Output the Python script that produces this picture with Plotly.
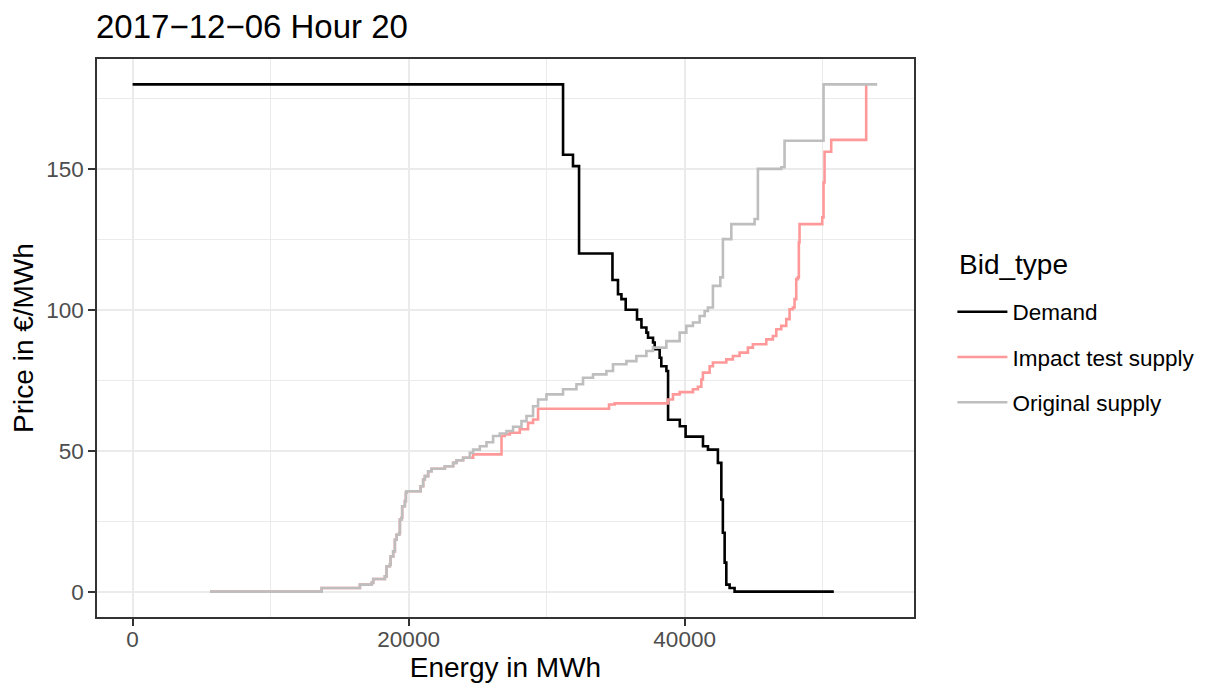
import plotly.graph_objects as go

# ---------------- data ----------------
demand_q = [0, 31190, 31910, 32350, 34770, 35170, 35420, 35730, 36550, 36870,
            37230, 37350, 37710, 37830, 38190, 38310, 38680, 38800, 39650, 40070,
            41330, 41690, 42410, 42660, 42770, 42900, 43020, 43260, 43620, 50810]
demand_p = [180, 155, 151, 120, 110.6, 105.5, 103.8, 100, 96.6, 93.7,
            91.9, 90.1, 88.4, 86, 83, 80, 78.3, 61, 58.7, 55,
            51.6, 50.4, 45.7, 32.7, 20.9, 10.3, 2.5, 1.3, 0, 0]

original_q = [5611, 13698, 16471, 17318, 17434, 18281, 18404, 18643, 18694, 18882,
              19005, 19128, 19316, 19367, 19490, 19534, 19729, 19801, 19852, 20866,
              21054, 21177, 21416, 21662, 22625, 23226, 23472, 23950, 24435, 24674,
              25159, 25644, 26122, 26607, 27092, 27570, 28178, 28540, 29018, 29380,
              29988, 31190, 32160, 32638, 33362, 34332, 34810, 35780, 36504, 37228,
              37706, 38676, 39639, 40124, 40602, 41087, 41449, 41688, 42050, 42586,
              42774, 43382, 45069, 45308, 47002, 47241, 50065, 53952]
original_p = [0, 1.3, 2.5, 3.1, 4.5, 5.4, 9, 9.6, 12.5, 14.3,
              18.4, 20.2, 20.8, 25.6, 26.2, 30.3, 32.1, 35.1, 35.6, 37.4,
              39.8, 41, 42.7, 43.6, 44.5, 45.7, 46.6, 47.5, 49.3, 50.4,
              51.6, 53, 55.2, 56.1, 57, 58.5, 60.5, 62.3, 65.8, 68.2,
              70, 71.8, 73.6, 75.9, 77.1, 78.3, 80.7, 81.8, 83.6, 85.4,
              86.6, 88.9, 91.9, 94.3, 95.5, 97.8, 99.6, 100.8, 108.5, 111.5,
              125.1, 130.4, 132.2, 150, 150.6, 160, 180, 180]

impact_q = [5611, 13698, 16471, 17318, 17434, 18281, 18404, 18643, 18694, 18882,
            19005, 19128, 19316, 19367, 19490, 19534, 19729, 19801, 19852, 20866,
            21054, 21177, 21416, 21662, 22625, 23226, 23472, 23950, 24674, 26730,
            26969, 27331, 28055, 28656, 29018, 29380, 34520, 34933, 38792, 39154,
            39639, 40602, 40964, 41210, 41326, 41811, 42050, 43020, 43498, 43983,
            44584, 44946, 45916, 46394, 46640, 47002, 47364, 47603, 47842, 47965,
            48088, 48204, 48276, 48327, 49970, 50065, 50137, 50622, 53156]
impact_p = [0, 1.3, 2.5, 3.1, 4.5, 5.4, 9, 9.6, 12.5, 14.3,
            18.4, 20.2, 20.8, 25.6, 26.2, 30.3, 32.1, 35.1, 35.6, 37.4,
            39.8, 41, 42.7, 43.6, 44.5, 45.7, 46.6, 47.5, 48.7, 55.2,
            55.8, 56.4, 57.6, 59.9, 61.1, 64.9, 66.4, 66.8, 68.2, 70,
            70.8, 71.8, 72.7, 75.3, 77.7, 80, 81.3, 82.4, 83.6, 84.8,
            86.6, 87.8, 89.5, 90.7, 93.1, 94.3, 96.7, 100.2, 100.8, 103.8,
            110.9, 111.5, 123.9, 130.4, 132.8, 145.2, 156.1, 160.3, 180]

x_ticks = [0, 20000, 40000]
x_minor = [10000, 30000, 50000]
y_ticks = [0, 50, 100, 150]
y_minor = [25, 75, 125, 175]

FONT = "Liberation Sans, Arial, sans-serif"

fig = go.Figure()
fig.add_trace(go.Scatter(x=demand_q, y=demand_p, mode="lines", name="Demand", legendgroup="d",
                         line=dict(color="#000000", width=2.6, shape="hv")))
fig.add_trace(go.Scatter(x=impact_q, y=impact_p, mode="lines", name="Impact test supply", legendgroup="i",
                         line=dict(color="#FF9999", width=2.6, shape="hv")))
fig.add_trace(go.Scatter(x=original_q, y=original_p, mode="lines", name="Original supply", legendgroup="o",
                         line=dict(color="#BEBEBE", width=2.6, shape="hv")))

axis_common = dict(
    showgrid=True, gridcolor="#EBEBEB", gridwidth=2, zeroline=False,
    showline=True, mirror=True, linecolor="#333333", linewidth=1.5,
    ticks="outside", ticklen=7, tickwidth=1.5, tickcolor="#333333",
    tickfont=dict(family=FONT, size=22.5, color="#4D4D4D"),
    automargin=False,
)

fig.update_layout(
    width=1213, height=683,
    margin=dict(l=97, r=299, t=59, b=66),
    paper_bgcolor="white", plot_bgcolor="white",
    font=dict(family=FONT, color="#000000"),
    title=dict(text="2017\u221212\u221206 Hour 20", x=96/1213, xanchor="left",
               y=1 - 26/683, yanchor="middle", xref="container", yref="container",
               font=dict(family=FONT, size=33, color="#000000")),
    xaxis=dict(range=[-2580, 56620], tickvals=x_ticks, ticktext=[str(v) for v in x_ticks],
               minor=dict(tickvals=x_minor, showgrid=True, gridcolor="#EBEBEB", gridwidth=1.2, ticks=""),
               ticklabelstandoff=-6,
               title=dict(text="Energy in MWh", font=dict(family=FONT, size=28, color="#000000"), standoff=4),
               **axis_common),
    yaxis=dict(range=[-9, 189], tickvals=y_ticks, ticktext=[str(v) for v in y_ticks],
               minor=dict(tickvals=y_minor, showgrid=True, gridcolor="#EBEBEB", gridwidth=1.2, ticks=""),
               title=dict(text="Price in \u20ac/MWh", font=dict(family=FONT, size=28, color="#000000"), standoff=4),
               **axis_common),
    legend=dict(font=dict(family=FONT, size=22.5, color="#000000"),
                x=1.047, xanchor="left", y=0.585, yanchor="top",
                itemwidth=50, bgcolor="rgba(0,0,0,0)", tracegroupgap=13),
    annotations=[dict(text="Bid_type", xref="paper", yref="paper", x=1.053, y=0.631,
                      xanchor="left", yanchor="middle", showarrow=False,
                      font=dict(family=FONT, size=28, color="#000000"))],
    showlegend=True,
)

fig.write_html("out.html")
